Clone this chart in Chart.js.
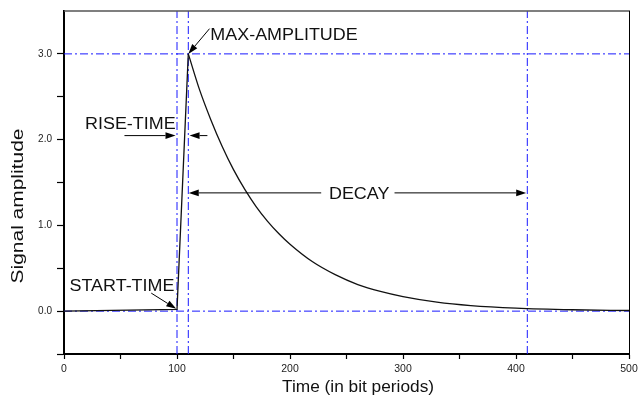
<!DOCTYPE html>
<html>
<head>
<meta charset="utf-8">
<script src="https://cdn.jsdelivr.net/npm/chart.js@4.4.1/dist/chart.umd.min.js"></script>
<style>
  html, body { margin: 0; padding: 0; background: #fff; }
</style>
</head>
<body>
<canvas id="chart" width="644" height="395"></canvas>
<script>
// signal: flat, linear rise, exponential-looking decay
const riseTime = [0, 100, 110];
const riseAmp = [0, 0.02, 3.0];
const decayTime = [110, 120, 130, 140, 150, 160, 170, 180, 190, 200, 220, 240, 260, 280, 300, 330, 360, 400, 450, 500];
const decayAmp = [3.0, 2.58, 2.23, 1.92, 1.65, 1.42, 1.22, 1.05, 0.905, 0.78, 0.575, 0.425, 0.31, 0.23, 0.17, 0.105, 0.065, 0.035, 0.016, 0.007];

// blue dash-dot marker lines
const markerTimes = [100, 110, 410];
const markerLevels = [0.0, 3.0];

// annotation texts and arrows, in data units (time, amplitude)
const noteLabels = ['MAX-AMPLITUDE', 'RISE-TIME', 'DECAY', 'START-TIME'];
const noteTime = [194.7, 58.7, 261.2, 51.3];
const noteAmp = [3.213, 2.178, 1.358, 0.288];
const arrowFrom = [[128.8, 3.294], [53.5, 2.047], [126.9, 2.047], [227.6, 1.379], [292.5, 1.379], [77.2, 0.21]];
const arrowTo = [[110, 3.0], [98.7, 2.047], [111.1, 2.047], [110.4, 1.379], [409, 1.379], [99.3, 0.027]];

const xTitle = 'Time (in bit periods)';
const yTitle = 'Signal amplitude';

const FONT = '"Liberation Sans", Arial, sans-serif';
const BLUE = 'rgb(25,25,255)';
const DASHDOT = [8, 3, 2, 3];

function toPoints(xs, ys) {
    return xs.map((t, i) => ({ x: t, y: ys[i] }));
}

function drawText(ctx, str, cx, cy, size, stretch, angle) {
    ctx.save();
    ctx.translate(cx, cy);
    ctx.rotate(angle);
    ctx.scale(stretch, 1);
    ctx.font = size + 'px ' + FONT;
    ctx.textAlign = 'center';
    ctx.textBaseline = 'middle';
    ctx.fillText(str, 0, 0);
    ctx.restore();
}

function drawArrow(ctx, x0, y0, x1, y1) {
    const ang = Math.atan2(y1 - y0, x1 - x0);
    const len = 10, half = 3.3;
    const bx = x1 - len * Math.cos(ang), by = y1 - len * Math.sin(ang);
    ctx.beginPath();
    ctx.moveTo(x0, y0);
    ctx.lineTo(bx, by);
    ctx.stroke();
    ctx.beginPath();
    ctx.moveTo(x1, y1);
    ctx.lineTo(bx - half * Math.sin(ang), by + half * Math.cos(ang));
    ctx.lineTo(bx + half * Math.sin(ang), by - half * Math.cos(ang));
    ctx.closePath();
    ctx.fill();
}

const overlay = {
    id: 'overlay',
    afterDraw(chart) {
        const { ctx, chartArea: a, scales: { x, y } } = chart;
        ctx.save();
        // top and right edges of the box
        ctx.strokeStyle = '#555';
        ctx.lineWidth = 1.5;
        ctx.beginPath();
        ctx.moveTo(a.left, a.top);
        ctx.lineTo(a.right + 1, a.top);
        ctx.stroke();
        ctx.strokeStyle = '#000';
        ctx.lineWidth = 1;
        ctx.beginPath();
        ctx.moveTo(a.right + 0.5, a.top);
        ctx.lineTo(a.right + 0.5, a.bottom);
        ctx.stroke();

        // arrows
        ctx.strokeStyle = '#000';
        ctx.fillStyle = '#000';
        ctx.lineWidth = 1;
        arrowFrom.forEach((p, i) => {
            const q = arrowTo[i];
            drawArrow(ctx, x.getPixelForValue(p[0]), y.getPixelForValue(p[1]),
                x.getPixelForValue(q[0]), y.getPixelForValue(q[1]));
        });

        // annotation labels
        ctx.fillStyle = '#111';
        noteLabels.forEach((s, i) => {
            drawText(ctx, s, x.getPixelForValue(noteTime[i]), y.getPixelForValue(noteAmp[i]), 16, 1.12, 0);
        });

        // axis titles
        drawText(ctx, xTitle, 358, 388, 16, 1.08, 0);
        drawText(ctx, yTitle, 18.5, 206, 16.5, 1.27, -Math.PI / 2);
        ctx.restore();
    }
};

const datasets = [
    {
        data: toPoints(riseTime, riseAmp),
        borderColor: '#111',
        borderWidth: 1.3,
        pointRadius: 0,
        tension: 0
    },
    {
        data: toPoints(decayTime, decayAmp),
        borderColor: '#111',
        borderWidth: 1.3,
        pointRadius: 0,
        cubicInterpolationMode: 'monotone'
    }
];
markerTimes.forEach(t => {
    datasets.push({
        data: [{ x: t, y: -0.5 }, { x: t, y: 3.5 }],
        borderColor: BLUE,
        borderWidth: 1,
        borderDash: DASHDOT,
        pointRadius: 0
    });
});
markerLevels.forEach(v => {
    datasets.push({
        data: [{ x: 0, y: v }, { x: 500, y: v }],
        borderColor: BLUE,
        borderWidth: 1,
        borderDash: DASHDOT,
        pointRadius: 0
    });
});

new Chart(document.getElementById('chart').getContext('2d'), {
    type: 'line',
    data: { datasets: datasets },
    options: {
        responsive: false,
        devicePixelRatio: 1,
        animation: false,
        layout: { padding: { top: 9, right: 15, left: 0, bottom: 0 } },
        plugins: {
            legend: { display: false },
            tooltip: { enabled: false },
            title: { display: false }
        },
        scales: {
            x: {
                type: 'linear',
                min: 0,
                max: 500,
                afterFit: s => { s.height = 41; },
                border: { display: true, color: '#000', width: 2 },
                grid: { drawOnChartArea: false, drawTicks: true, tickLength: 5, tickColor: '#000', tickWidth: 1.2 },
                ticks: {
                    stepSize: 50,
                    autoSkip: false,
                    maxRotation: 0,
                    padding: 4,
                    color: '#222',
                    font: { family: FONT, size: 10.5 },
                    callback: v => (v % 100 === 0 ? String(v) : '')
                }
            },
            y: {
                type: 'linear',
                min: -0.5,
                max: 3.5,
                afterFit: s => { s.width = 64; },
                border: { display: true, color: '#000', width: 2 },
                grid: {
                    drawOnChartArea: false,
                    drawTicks: true,
                    tickLength: 7,
                    tickWidth: 1.2,
                    tickColor: c => (c.tick && c.tick.value === 3.5 ? 'rgba(0,0,0,0)' : '#000')
                },
                ticks: {
                    stepSize: 0.5,
                    autoSkip: false,
                    padding: 5,
                    color: '#222',
                    font: { family: FONT, size: 10 },
                    callback: v => (Number.isInteger(v) && v >= 0 && v <= 3 ? v.toFixed(1) : '')
                }
            }
        }
    },
    plugins: [overlay]
});
</script>
</body>
</html>
